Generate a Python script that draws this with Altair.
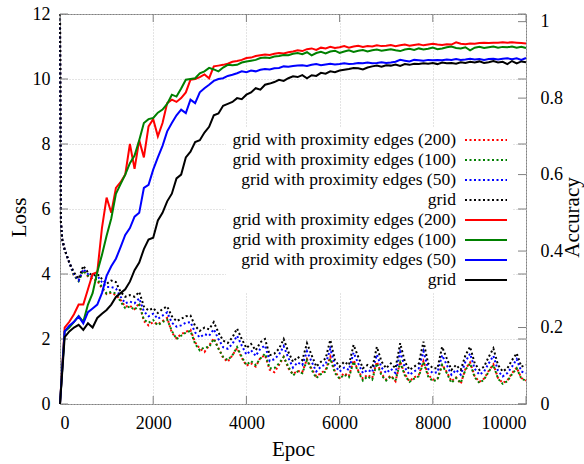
import altair as alt
import pandas as pd

FONT = "Times New Roman, Liberation Serif, Times, serif"

LOSS_EPOCHS = [0, 20, 50] + list(range(100, 10001, 100))
ACC_EPOCHS = list(range(0, 10001, 100))

SERIES = ["grid with proximity edges (200)", "grid with proximity edges (100)",
          "grid with proximity edges (50)", "grid"]
COLORS = ["#ff0000", "#008000", "#0000ff", "#000000"]

LOSS_START = [12.0, 5.6, 5.05]

LOSS_200 = LOSS_START + [
    4.75, 4.35, 3.95, 3.8, 4.12, 3.92, 3.82, 3.8, 3.55, 3.38,
    3.42, 3.35, 3.2, 3.0, 3.02, 2.92, 3.1, 2.55, 2.42, 2.52,
    2.45, 2.55, 2.65, 2.2, 2.02, 2.15, 2.22, 2.28, 1.9, 1.7,
    1.6, 1.8, 2.02, 1.72, 1.42, 1.3, 1.5, 1.72, 1.42, 1.18,
    1.25, 1.15, 1.42, 1.5, 1.05, 0.98, 1.2, 1.45, 1.1, 0.92,
    1.02, 0.98, 1.38, 1.08, 0.85, 0.95, 1.05, 1.45, 1.0, 0.8,
    0.95, 0.85, 1.35, 1.02, 0.78, 0.9, 0.8, 1.3, 0.92, 0.75,
    0.88, 0.7, 1.3, 0.92, 0.7, 0.82, 0.9, 1.32, 0.9, 0.75,
    0.78, 1.22, 0.98, 0.7, 0.82, 0.62, 1.08, 1.28, 0.85, 0.68,
    0.78, 1.02, 1.22, 0.8, 0.65, 0.72, 0.95, 1.12, 0.8, 0.72]

LOSS_100 = LOSS_START + [
    4.75, 4.35, 3.95, 3.78, 4.1, 3.95, 3.85, 3.85, 3.6, 3.4,
    3.45, 3.4, 3.15, 2.95, 3.0, 2.9, 3.05, 2.6, 2.5, 2.58,
    2.42, 2.52, 2.6, 2.25, 2.0, 2.1, 2.2, 2.25, 1.85, 1.65,
    1.75, 1.75, 2.0, 1.7, 1.45, 1.35, 1.5, 1.75, 1.45, 1.2,
    1.32, 1.2, 1.4, 1.55, 1.1, 1.1, 1.25, 1.45, 1.15, 0.88,
    1.0, 0.95, 1.35, 1.05, 0.8, 0.92, 1.0, 1.4, 0.95, 0.78,
    0.9, 0.82, 1.3, 1.0, 0.72, 0.85, 0.75, 1.25, 0.88, 0.72,
    0.85, 0.72, 1.28, 0.88, 0.68, 0.78, 0.85, 1.3, 0.85, 0.7,
    0.75, 1.2, 0.95, 0.65, 0.8, 0.65, 1.05, 1.25, 0.82, 0.65,
    0.75, 1.0, 1.2, 0.78, 0.62, 0.7, 0.92, 1.1, 0.78, 0.72]

LOSS_50 = LOSS_START + [
    4.75, 4.35, 4.0, 3.8, 4.15, 4.0, 3.9, 3.95, 3.75, 3.6,
    3.6, 3.55, 3.3, 3.1, 3.15, 3.1, 3.25, 2.85, 2.7, 2.78,
    2.62, 2.72, 2.82, 2.5, 2.38, 2.42, 2.5, 2.52, 2.2, 2.05,
    2.15, 2.1, 2.3, 2.0, 1.75, 1.7, 1.85, 2.1, 1.8, 1.52,
    1.65, 1.48, 1.7, 1.8, 1.32, 1.38, 1.52, 1.78, 1.42, 1.12,
    1.28, 1.2, 1.62, 1.3, 1.0, 1.15, 1.22, 1.7, 1.18, 1.0,
    1.12, 1.05, 1.58, 1.25, 0.95, 1.05, 0.98, 1.52, 1.12, 0.95,
    1.08, 0.95, 1.6, 1.12, 0.9, 1.0, 1.1, 1.62, 1.08, 0.95,
    0.98, 1.5, 1.2, 0.9, 1.05, 0.9, 1.3, 1.55, 1.08, 0.9,
    1.0, 1.25, 1.48, 1.02, 0.85, 0.95, 1.15, 1.38, 1.0, 0.95]

LOSS_GRID = LOSS_START + [
    4.75, 4.35, 4.05, 3.85, 4.25, 4.05, 3.95, 4.0, 3.85, 3.7,
    3.8, 3.75, 3.45, 3.3, 3.35, 3.3, 3.45, 3.0, 2.88, 2.95,
    2.8, 2.92, 3.0, 2.7, 2.55, 2.62, 2.7, 2.72, 2.4, 2.25,
    2.35, 2.3, 2.52, 2.2, 1.95, 1.88, 2.05, 2.32, 2.0, 1.72,
    1.85, 1.65, 1.9, 2.0, 1.5, 1.55, 1.7, 2.0, 1.6, 1.3,
    1.45, 1.35, 1.87, 1.5, 1.15, 1.3, 1.4, 1.97, 1.35, 1.15,
    1.3, 1.2, 1.82, 1.45, 1.1, 1.2, 1.1, 1.76, 1.3, 1.1,
    1.25, 1.1, 1.87, 1.3, 1.05, 1.15, 1.25, 1.92, 1.25, 1.1,
    1.1, 1.76, 1.4, 1.05, 1.2, 1.05, 1.5, 1.76, 1.25, 1.05,
    1.15, 1.45, 1.71, 1.2, 1.0, 1.1, 1.35, 1.56, 1.15, 1.2]

ACC_200 = [0.0,
    0.2, 0.215, 0.235, 0.26, 0.26, 0.3, 0.34, 0.345, 0.46, 0.54,
    0.5, 0.565, 0.58, 0.6, 0.68, 0.615, 0.69, 0.645, 0.726, 0.745,
    0.7, 0.735, 0.787, 0.796, 0.79, 0.8, 0.815, 0.848, 0.85, 0.855,
    0.862, 0.852, 0.883, 0.885, 0.887, 0.89, 0.895, 0.897, 0.9, 0.905,
    0.906, 0.91, 0.912, 0.914, 0.913, 0.916, 0.918, 0.917, 0.92, 0.922,
    0.925, 0.923, 0.928, 0.93, 0.926, 0.932, 0.93, 0.934, 0.931, 0.933,
    0.936, 0.932, 0.935, 0.937, 0.934, 0.936, 0.935, 0.938, 0.936, 0.937,
    0.939, 0.936, 0.938, 0.94, 0.937, 0.939, 0.941, 0.938, 0.94, 0.942,
    0.94, 0.939, 0.941, 0.94, 0.946, 0.942, 0.941, 0.943, 0.942, 0.944,
    0.945, 0.944, 0.945, 0.945, 0.946, 0.945, 0.946, 0.945, 0.944, 0.943]

ACC_100 = [0.0,
    0.19, 0.2, 0.215, 0.23, 0.215, 0.26, 0.29, 0.345, 0.39, 0.44,
    0.485, 0.55, 0.575, 0.6, 0.63, 0.65, 0.69, 0.735, 0.745, 0.748,
    0.762, 0.77, 0.785, 0.809, 0.804, 0.825, 0.848, 0.85, 0.852, 0.865,
    0.87, 0.879, 0.875, 0.87, 0.88, 0.887, 0.886, 0.887, 0.893, 0.896,
    0.898, 0.9, 0.905, 0.906, 0.905, 0.909, 0.91, 0.913, 0.912, 0.916,
    0.918, 0.915, 0.92, 0.912, 0.918, 0.921, 0.917, 0.922, 0.924, 0.918,
    0.922, 0.925, 0.921, 0.924, 0.926, 0.922, 0.925, 0.927, 0.924, 0.926,
    0.928, 0.925, 0.923, 0.927, 0.929, 0.926, 0.93, 0.927, 0.929, 0.932,
    0.928, 0.93, 0.933, 0.935, 0.931, 0.93, 0.933, 0.925, 0.932, 0.934,
    0.931, 0.933, 0.935, 0.932, 0.934, 0.933, 0.935, 0.932, 0.934, 0.931]

ACC_50 = [0.0,
    0.19, 0.205, 0.215, 0.229, 0.211, 0.24, 0.25, 0.26, 0.29, 0.335,
    0.36, 0.38, 0.41, 0.442, 0.46, 0.49, 0.5, 0.565, 0.573, 0.613,
    0.645, 0.675, 0.713, 0.735, 0.755, 0.77, 0.761, 0.796, 0.787, 0.815,
    0.826, 0.835, 0.845, 0.85, 0.852, 0.858, 0.861, 0.865, 0.87, 0.868,
    0.872, 0.87, 0.874, 0.876, 0.875, 0.878, 0.879, 0.883, 0.882, 0.884,
    0.885, 0.886, 0.884, 0.887, 0.889, 0.886, 0.888, 0.89, 0.888, 0.889,
    0.891, 0.889, 0.89, 0.892, 0.891, 0.893, 0.891, 0.892, 0.894, 0.892,
    0.893, 0.895, 0.9, 0.898, 0.896, 0.9, 0.899, 0.898, 0.9, 0.899,
    0.9, 0.899, 0.901, 0.9, 0.902, 0.9, 0.901, 0.903, 0.901, 0.902,
    0.9, 0.902, 0.903, 0.901, 0.903, 0.904, 0.902, 0.904, 0.9, 0.905]

ACC_GRID = [0.0,
    0.175, 0.19, 0.2, 0.207, 0.194, 0.211, 0.2, 0.225, 0.236, 0.246,
    0.26, 0.28, 0.29, 0.3, 0.32, 0.35, 0.37, 0.405, 0.43, 0.435,
    0.48, 0.5, 0.53, 0.55, 0.59, 0.6, 0.645, 0.66, 0.685, 0.69,
    0.71, 0.725, 0.755, 0.76, 0.78, 0.785, 0.79, 0.8, 0.797, 0.809,
    0.815, 0.826, 0.822, 0.835, 0.838, 0.842, 0.848, 0.845, 0.852, 0.857,
    0.855, 0.86, 0.852, 0.86, 0.858, 0.866, 0.864, 0.87, 0.868, 0.872,
    0.874, 0.876, 0.879, 0.878, 0.875, 0.88, 0.883, 0.885, 0.882, 0.886,
    0.885, 0.888, 0.884, 0.889, 0.887, 0.89, 0.889, 0.891, 0.89, 0.892,
    0.889, 0.893, 0.891, 0.892, 0.89, 0.894, 0.892, 0.895, 0.893, 0.896,
    0.892, 0.894, 0.897, 0.893, 0.895, 0.889, 0.897, 0.891, 0.896, 0.894]

X_TICKS = [0, 2000, 4000, 6000, 8000, 10000]
LOSS_TICKS = [0, 2, 4, 6, 8, 10, 12]
ACC_TICKS = [0, 0.2, 0.4, 0.6, 0.8, 1]

LOSS_SERIES = [LOSS_200, LOSS_100, LOSS_50, LOSS_GRID]
ACC_SERIES = [ACC_200, ACC_100, ACC_50, ACC_GRID]

W, H = 466, 390
BORDER = "#808080"
GRIDC = "#c8c8c8"

x_scale = alt.Scale(domain=[0, 10000], nice=False, zero=False)
loss_scale = alt.Scale(domain=[0, 12], nice=False)
acc_scale = alt.Scale(domain=[0, 1.02], nice=False)

x_axis = alt.Axis(values=X_TICKS, format="d", title="Epoc", tickSize=0, labelPadding=10,
                  domain=False, grid=True, gridColor=GRIDC, gridDash=[1, 2],
                  labelFont=FONT, labelFontSize=18, labelColor="black",
                  titleFont=FONT, titleFontSize=21, titleFontWeight="normal",
                  titleColor="black", titleX=W / 2, titleY=51,
                  titleBaseline="alphabetic", titleAlign="center")
loss_axis = alt.Axis(values=LOSS_TICKS, title="Loss", orient="left", tickSize=0,
                     labelPadding=10, domain=False, grid=True, gridColor=GRIDC,
                     gridDash=[1, 2], labelFont=FONT, labelFontSize=18,
                     labelColor="black", titleFont=FONT, titleFontSize=21,
                     titleFontWeight="normal", titleColor="black",
                     titleX=-41, titleY=203, titleAngle=270,
                     titleAlign="center", titleBaseline="middle")
acc_axis = alt.Axis(values=ACC_TICKS, format="~g", title="Accuracy", orient="right",
                    tickSize=0, labelPadding=14, domain=False, grid=False,
                    labelFont=FONT, labelFontSize=18, labelColor="black",
                    titleFont=FONT, titleFontSize=21, titleFontWeight="normal",
                    titleColor="black", titleX=46, titleY=203, titleAngle=270,
                    titleAlign="center", titleBaseline="middle")


def X(field):
    return alt.X(field, type="quantitative", scale=x_scale, axis=x_axis)


def YL(field):
    return alt.Y(field, type="quantitative", scale=loss_scale, axis=loss_axis)


def YA(field):
    return alt.Y(field, type="quantitative", scale=acc_scale, axis=acc_axis)


# white key box (hides the grid under the key)
key_box = alt.Chart(pd.DataFrame({"k": [0]})).mark_rect(color="white").encode(
    x=alt.value(166), x2=alt.value(452), y=alt.value(114), y2=alt.value(278))

loss_layers = []
for name, col, vals in zip(SERIES, COLORS, LOSS_SERIES):
    df = pd.DataFrame({"epoch": LOSS_EPOCHS, "loss": vals})
    loss_layers.append(
        alt.Chart(df).mark_line(color=col, strokeWidth=2, strokeDash=[2, 2.5])
        .encode(x=X("epoch"), y=YL("loss")))

acc_layers = []
for name, col, vals in zip(SERIES, COLORS, ACC_SERIES):
    df = pd.DataFrame({"epoch": ACC_EPOCHS, "acc": vals})
    acc_layers.append(
        alt.Chart(df).mark_line(color=col, strokeWidth=2)
        .encode(x=X("epoch"), y=YA("acc")))

xt = pd.DataFrame({"t": X_TICKS})
lt = pd.DataFrame({"t": LOSS_TICKS})
at = pd.DataFrame({"t": ACC_TICKS})
tick_style = dict(color=BORDER, strokeWidth=1)
ticks_x_bot = alt.Chart(xt).mark_rule(**tick_style).encode(
    x=X("t"), y=alt.value(H), y2=alt.value(H - 8))
ticks_x_top = alt.Chart(xt).mark_rule(**tick_style).encode(
    x=X("t"), y=alt.value(0), y2=alt.value(8))
ticks_l_left = alt.Chart(lt).mark_rule(**tick_style).encode(
    y=YL("t"), x=alt.value(0), x2=alt.value(8))
ticks_l_right = alt.Chart(lt).mark_rule(**tick_style).encode(
    y=YL("t"), x=alt.value(W - 8), x2=alt.value(W))
ticks_a_right = alt.Chart(at).mark_rule(**tick_style).encode(
    y=YA("t"), x=alt.value(W - 8), x2=alt.value(W))

loss_group = alt.layer(key_box, *loss_layers, ticks_x_bot, ticks_x_top,
                       ticks_l_left, ticks_l_right)
acc_group = alt.layer(*acc_layers, ticks_a_right)

# key: labels right-aligned, sample line on the right
key_layers = []
entries = [(s, c, True) for s, c in zip(SERIES, COLORS)] + \
          [(s, c, False) for s, c in zip(SERIES, COLORS)]
for i, (label, col, dotted) in enumerate(entries):
    ypix = 126 + 20 * i
    kdf = pd.DataFrame({"label": [label]})
    key_layers.append(
        alt.Chart(kdf).mark_text(align="right", baseline="middle", font=FONT,
                                 fontSize=17.5, color="black")
        .encode(text="label:N", x=alt.value(396), y=alt.value(ypix)))
    rule_kw = dict(color=col, strokeWidth=2)
    if dotted:
        rule_kw["strokeDash"] = [2, 2.5]
    key_layers.append(
        alt.Chart(kdf).mark_rule(**rule_kw)
        .encode(x=alt.value(405), x2=alt.value(447), y=alt.value(ypix)))

chart = alt.layer(loss_group, acc_group, *key_layers).resolve_scale(
    y="independent"
).properties(
    width=W, height=H,
    autosize=alt.AutoSizeParams(type="none"),
    padding={"left": 60, "top": 14, "right": 58, "bottom": 60},
    background="white",
).configure_view(stroke=BORDER, strokeWidth=1)

chart.save("out.html", embed_options={"renderer": "svg", "actions": False})
